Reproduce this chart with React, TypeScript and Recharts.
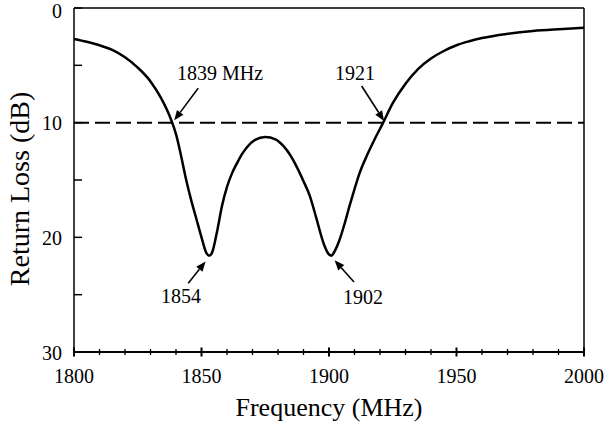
import React from 'react';
import { LineChart, Line, XAxis, YAxis, ReferenceLine, ReferenceDot } from 'recharts';

// measured return loss curve
const freq = [
  1800, 1805, 1810, 1815, 1820, 1825, 1830, 1834, 1838, 1840, 1842, 1844, 1846, 1848, 1850,
  1852, 1853, 1854, 1856, 1858, 1860, 1862, 1864, 1866, 1868, 1871, 1875, 1879, 1882, 1885,
  1887, 1890, 1892.5, 1895, 1898, 1900, 1901, 1902, 1904, 1906, 1908, 1910, 1912, 1915, 1918,
  1921, 1925, 1930, 1935, 1940, 1945, 1950, 1955, 1960, 1970, 1980, 1990, 2000,
];
const loss = [
  2.7, 2.95, 3.25, 3.65, 4.3, 5.2, 6.4, 7.8, 9.7, 11.0, 12.9, 15.0, 16.8, 18.4, 20.0,
  21.4, 21.6, 21.4, 19.6, 17.3, 15.6, 14.4, 13.5, 12.7, 12.1, 11.5, 11.25, 11.45, 12.0, 12.9,
  13.7, 15.1, 16.4, 18.3, 20.6, 21.5, 21.6, 21.3, 20.3, 18.9, 17.3, 15.8, 14.4, 12.8, 11.4,
  10.1, 8.3, 6.6, 5.3, 4.4, 3.75, 3.25, 2.9, 2.62, 2.25, 2.0, 1.85, 1.73,
];

const xTicks = [
  1800, 1810, 1820, 1830, 1840, 1850, 1860, 1870, 1880, 1890, 1900,
  1910, 1920, 1930, 1940, 1950, 1960, 1970, 1980, 1990, 2000,
];
const yTicks = [0, 5, 10, 15, 20, 25, 30];

// annotations: [label, labelX, labelY, tailX, tailY, tipX, tipY]
const notes: [string, number, number, number, number, number, number][] = [
  ['1839 MHz', 1857.3, 5.7, 1848.7, 7.0, 1839.3, 9.8],
  ['1921', 1910.2, 5.7, 1912.8, 6.8, 1921.6, 9.85],
  ['1854', 1842, 25.1, 1844.8, 24.0, 1851.6, 22.1],
  ['1902', 1913.3, 25.2, 1909.8, 23.9, 1902.2, 22.0],
];

const data = freq.map((f, i) => ({ f, loss: loss[i] }));

const FONT = '"Liberation Serif", "Times New Roman", serif';

const XTick = (props: any) => {
  const { x, y, payload } = props;
  const major = payload.value % 50 === 0;
  const h = major ? 4.5 : 3;
  return (
    <g>
      <line x1={x} x2={x} y1={y - h} y2={y + h} stroke="#000" strokeWidth={major ? 2 : 1.3} />
      {major && (
        <text x={x} y={y + 31} textAnchor="middle" fontSize={20} fontFamily={FONT} fill="#000">
          {payload.value}
        </text>
      )}
    </g>
  );
};

const YTick = (props: any) => {
  const { x, y, payload } = props;
  const major = payload.value % 10 === 0;
  const dy = payload.value === 0 ? 9.5 : 7.5;
  return (
    <g>
      <line x1={x} x2={x + 8} y1={y} y2={y} stroke="#000" strokeWidth={1.5} />
      {major && (
        <text x={x - 12} y={y + dy} textAnchor="end" fontSize={20} fontFamily={FONT} fill="#000">
          {payload.value}
        </text>
      )}
    </g>
  );
};

const Arrow = (props: any) => {
  const { x1, y1, x2, y2 } = props;
  const dx = x2 - x1;
  const dy = y2 - y1;
  const len = Math.sqrt(dx * dx + dy * dy);
  const ux = dx / len;
  const uy = dy / len;
  const hl = 10;
  const hw = 4;
  const bx = x2 - ux * hl;
  const by = y2 - uy * hl;
  return (
    <g>
      <line x1={x1} y1={y1} x2={bx} y2={by} stroke="#000" strokeWidth={1.6} />
      <polygon
        points={`${x2},${y2} ${bx - uy * hw},${by + ux * hw} ${bx + uy * hw},${by - ux * hw}`}
        fill="#000"
      />
    </g>
  );
};

const NoteText = (text: string) => (props: any) => (
  <text
    x={props.cx}
    y={props.cy + 7}
    textAnchor="middle"
    fontSize={20}
    fontFamily={FONT}
    fill="#000"
  >
    {text}
  </text>
);

const YTitle = (props: any) => {
  const vb = props.viewBox;
  const cx = vb.x + 19;
  const cy = vb.y + vb.height / 2 + 9;
  return (
    <text
      x={cx}
      y={cy}
      transform={`rotate(-90, ${cx}, ${cy})`}
      textAnchor="middle"
      dominantBaseline="central"
      fontSize={28}
      fontFamily={FONT}
      fill="#000"
    >
      Return Loss (dB)
    </text>
  );
};

const XTitle = (props: any) => {
  const vb = props.viewBox;
  return (
    <text
      x={vb.x + vb.width / 2}
      y={vb.y + 64}
      textAnchor="middle"
      fontSize={26}
      fontFamily={FONT}
      fill="#000"
    >
      Frequency (MHz)
    </text>
  );
};

export default function App() {
  return (
    <div style={{ position: 'absolute', left: 0, top: 0, background: '#fff' }}>
      <LineChart
        width={605}
        height={426}
        data={data}
        margin={{ top: 8, right: 21, bottom: 0, left: 0 }}
        style={{ overflow: 'visible' }}
      >
        <XAxis
          dataKey="f"
          type="number"
          domain={[1800, 2000]}
          ticks={xTicks}
          interval={0}
          height={74}
          tickSize={0}
          tickMargin={0}
          tick={<XTick />}
          axisLine={{ stroke: '#000', strokeWidth: 2 }}
          label={{ content: <XTitle /> }}
        />
        <YAxis
          type="number"
          domain={[0, 30]}
          reversed
          ticks={yTicks}
          interval={0}
          width={74}
          tickSize={0}
          tickMargin={0}
          tick={<YTick />}
          axisLine={{ stroke: '#000', strokeWidth: 1.5 }}
          label={{ content: <YTitle /> }}
        />
        <ReferenceLine y={0} stroke="#000" strokeWidth={1.5} />
        <ReferenceLine x={2000} stroke="#000" strokeWidth={1.5} />
        <ReferenceLine y={10} stroke="#000" strokeWidth={2} strokeDasharray="15 6" />
        <Line
          type="monotone"
          dataKey="loss"
          stroke="#000"
          strokeWidth={2.5}
          dot={false}
          isAnimationActive={false}
        />
        {notes.map((n) => (
          <ReferenceLine
            key={'a' + n[0]}
            segment={[{ x: n[3], y: n[4] }, { x: n[5], y: n[6] }]}
            shape={<Arrow />}
          />
        ))}
        {notes.map((n) => (
          <ReferenceDot key={'t' + n[0]} x={n[1]} y={n[2]} r={0} shape={NoteText(n[0])} />
        ))}
      </LineChart>
    </div>
  );
}
